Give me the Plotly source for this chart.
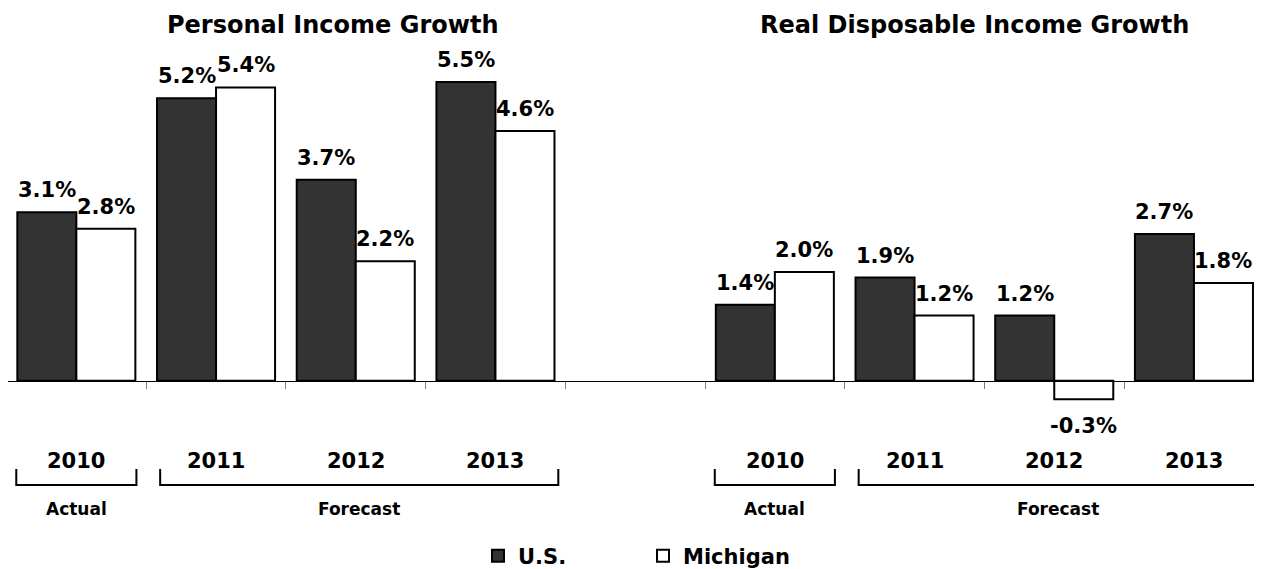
import plotly.graph_objects as go

# data
years = ["2010", "2011", "2012", "2013"]
titles = ["Personal Income Growth", "Real Disposable Income Growth"]
personal_us = [3.1, 5.2, 3.7, 5.5]
personal_mi = [2.8, 5.4, 2.2, 4.6]
disposable_us = [1.4, 1.9, 1.2, 2.7]
disposable_mi = [2.0, 1.2, -0.34, 1.8]

FONT = "DejaVu Sans"
US_COLOR = "#333333"
MI_COLOR = "#ffffff"
BARGAP = 0.155

# slot positions: 4 years per panel, one empty slot between panels
left_x = list(range(len(years)))
right_x = [i + len(years) + 1 for i in range(len(years))]

# page offset of the figure (body margin), page size
OFF = 8
PAGE_W, PAGE_H = 1262, 569
W, H = PAGE_W - OFF, PAGE_H - OFF

# target positions in page pixels
ZERO_PX = 380.7
PX_PER_UNIT = 54.3
SLOT_PX = 139.7
FIRST_TICK_PX = 6.5

M_L, M_T, M_B = 0, 32, 121
plot_top = OFF + M_T
plot_bottom = OFF + H - M_B
plot_h = plot_bottom - plot_top

def py(px):
    # page pixel y -> paper fraction
    return (plot_bottom - px) / plot_h

y_top = (ZERO_PX - plot_top) / PX_PER_UNIT
y_bot = -(plot_bottom - ZERO_PX) / PX_PER_UNIT
x0 = -0.5 + (OFF + M_L - FIRST_TICK_PX) / SLOT_PX
x_range = [x0, x0 + (W - M_L) / SLOT_PX]
zero_pos = -y_bot / (y_top - y_bot)

fig = go.Figure()
panels = [
    (left_x, personal_us, personal_mi, True),
    (right_x, disposable_us, disposable_mi, False),
]
for xs, us, mi, show in panels:
    fig.add_trace(go.Bar(x=xs, y=us, name="U.S.", offsetgroup="us", legendgroup="us",
                         showlegend=show, marker=dict(color=US_COLOR, line=dict(color="black", width=2))))
    fig.add_trace(go.Bar(x=xs, y=mi, name="Michigan", offsetgroup="mi", legendgroup="mi",
                         showlegend=show, marker=dict(color=MI_COLOR, line=dict(color="black", width=2))))

off = (1 - BARGAP) / 4
bold = lambda s: dict(family=FONT, size=s, color="black", weight="bold")

# value labels
for xs, us, mi, _ in panels:
    for series, shift in ((us, -off), (mi, off)):
        for x, v in zip(xs, series):
            fig.add_annotation(x=x + shift, y=v, text=f"{v:.1f}%", showarrow=False,
                               xanchor="center", yanchor="middle",
                               yshift=22 if v >= 0 else -27, font=bold(21))

# year labels, brackets, period labels
for xs, *_ in panels:
    for x, yr in zip(xs, years):
        fig.add_annotation(x=x, y=py(461), yref="paper", text=yr, showarrow=False,
                           xanchor="center", yanchor="middle", font=bold(21))
    groups = [("Actual", xs[0] - 0.43, xs[0] + 0.43), ("Forecast", xs[1] - 0.4, xs[-1] + 0.45)]
    for label, a, b in groups:
        fig.add_shape(type="path", xref="x", yref="paper",
                      path=f"M {a},{py(469)} L {a},{py(485)} L {b},{py(485)} L {b},{py(469)}",
                      line=dict(color="black", width=2))
        fig.add_annotation(x=(a + b) / 2, y=py(509), yref="paper", text=label,
                           showarrow=False, xanchor="center", yanchor="middle", font=bold(17))

# panel titles
title_px = [332, 974]
for t, px in zip(titles, title_px):
    fig.add_annotation(x=(px - OFF - M_L) / (W - M_L), xref="paper", y=py(25), yref="paper",
                       text=t, showarrow=False, xanchor="center", yanchor="middle",
                       font=bold(24))

fig.update_layout(
    width=W, height=H,
    margin=dict(l=M_L, r=0, t=M_T, b=M_B, pad=0),
    paper_bgcolor="white", plot_bgcolor="white",
    barmode="group", bargap=BARGAP, bargroupgap=0,
    font=dict(family=FONT, color="black"),
    # category axis sits on the zero line, ticks between years
    xaxis=dict(range=x_range, fixedrange=True, anchor="free", position=zero_pos,
               showline=True, linecolor="black", linewidth=1,
               ticks="outside", ticklen=7, tickcolor="#808080", tickwidth=1,
               tickvals=[i - 0.5 for i in range(len(left_x) + len(right_x) + 2)],
               showticklabels=False, showgrid=False, zeroline=False),
    yaxis=dict(range=[y_bot, y_top], visible=False),
    legend=dict(orientation="h", xref="container", x=(478 - OFF) / W, xanchor="left",
                yref="container", y=1 - (556 - OFF) / H, yanchor="middle",
                font=dict(family=FONT, size=21, color="black", weight="bold"),
                entrywidth=120, traceorder="normal"),
    showlegend=True,
)

fig.write_html("out.html")
